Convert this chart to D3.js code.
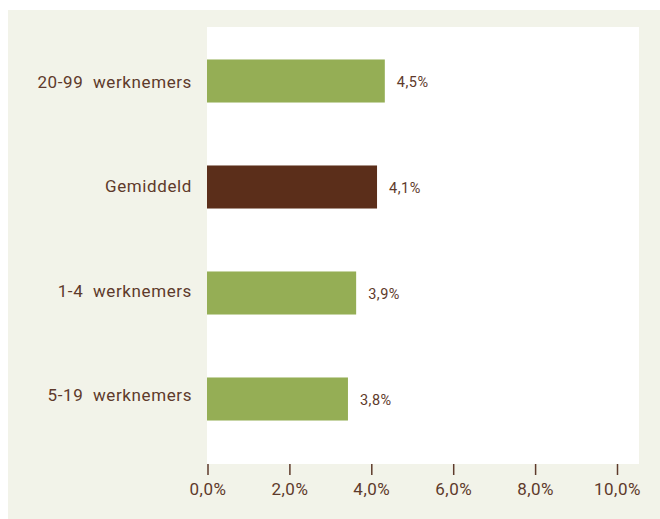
<!DOCTYPE html>
<html>
<head>
<meta charset="utf-8">
<script src="https://cdn.jsdelivr.net/npm/d3@7"></script>
<style>
  html, body { margin: 0; padding: 0; background: #ffffff; }
  svg { display: block; }
  text { font-family: Roboto, "Open Sans", sans-serif; }
</style>
</head>
<body>
<svg id="chart" width="660" height="519"></svg>
<script>
// Data
const categories = ["20-99  werknemers", "Gemiddeld", "1-4  werknemers", "5-19  werknemers"];
const values = [4.33, 4.14, 3.63, 3.43];            // bar lengths as drawn (%)
const valueLabels = ["4,5%", "4,1%", "3,9%", "3,8%"]; // printed labels
const highlight = [false, true, false, false];
const xTicks = [0, 2, 4, 6, 8, 10];
const xTickLabels = ["0,0%", "2,0%", "4,0%", "6,0%", "8,0%", "10,0%"];

const svg = d3.select("#chart");
const W = 660, H = 519;

const green = "#95ae55";
const brown = "#5b2e1a";
const textColor = "#5e3a2b";
const beige = "#f2f3e9";

// Backgrounds
svg.append("rect").attr("x", 8).attr("y", 10).attr("width", W - 8).attr("height", H - 10).attr("fill", beige);
svg.append("rect").attr("x", 207).attr("y", 27).attr("width", 432).attr("height", 437).attr("fill", "#ffffff");

const x = d3.scaleLinear().domain([0, 10]).range([207.5, 617]);
const y = d3.scaleBand().domain(categories).range([28, 452]).paddingInner(0.594).paddingOuter(0.297);
// category labels sit on a slightly tighter band than the bars
const yLab = d3.scalePoint().domain(categories).range([82, 395.5]);

// Bars
svg.append("g").selectAll("rect").data(categories).join("rect")
  .attr("x", x(0) - 0.5)
  .attr("y", d => y(d))
  .attr("width", (d, i) => x(values[i]) - x(0) + 0.5)
  .attr("height", y.bandwidth())
  .attr("fill", (d, i) => highlight[i] ? brown : green);

// Value labels
svg.append("g").selectAll("text").data(categories).join("text")
  .attr("x", (d, i) => x(values[i]) + 12)
  .attr("y", d => y(d) + y.bandwidth() / 2 + 1)
  .attr("dy", "0.35em")
  .attr("font-size", 14.5)
  .attr("letter-spacing", "0.5px")
  .attr("fill", textColor)
  .text((d, i) => valueLabels[i]);

// Category labels
svg.append("g").selectAll("text").data(categories).join("text")
  .attr("x", 192)
  .attr("y", d => yLab(d))
  .attr("dy", "0.35em")
  .attr("text-anchor", "end")
  .attr("font-size", 17)
  .attr("letter-spacing", "0.6px")
  .attr("fill", textColor)
  .style("white-space", "pre")
  .text(d => d);

// X axis
const xAxis = d3.axisBottom(x)
  .tickValues(xTicks)
  .tickFormat((d, i) => xTickLabels[i])
  .tickSize(11)
  .tickPadding(8);
const ax = svg.append("g").attr("transform", "translate(0,464)").call(xAxis);
ax.select(".domain").remove();
ax.selectAll(".tick line").attr("stroke", textColor).attr("stroke-width", 1.5);
ax.selectAll(".tick text").attr("fill", textColor).attr("font-size", 17)
  .attr("letter-spacing", "0.5px")
  .attr("font-family", "Roboto, 'Open Sans', sans-serif");
</script>
</body>
</html>
